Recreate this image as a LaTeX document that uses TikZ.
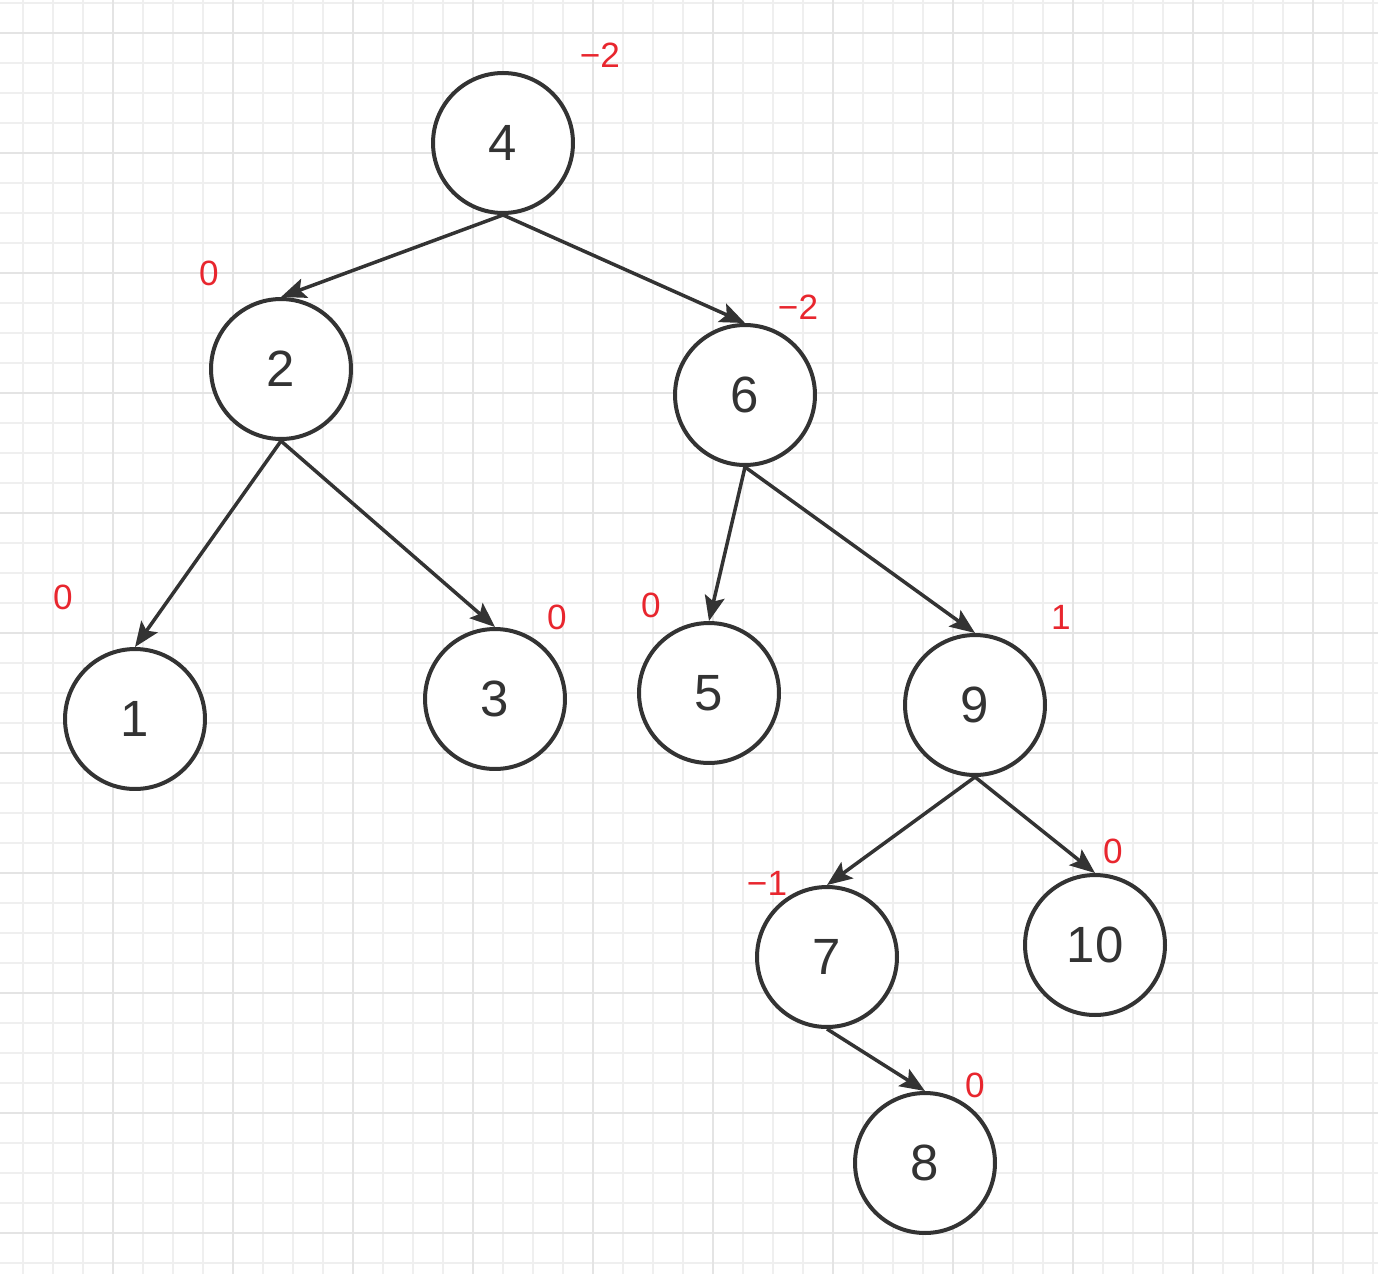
\documentclass[tikz,border=0pt]{standalone}
\usepackage{fontspec}
\setmainfont{Liberation Sans}
\usepackage{tikz}
\usetikzlibrary{
	arrows.meta,
	positioning
}
\usepackage{xcolor}
\definecolor{gridminor}{HTML}{EFEFEF}
\definecolor{gridmajor}{HTML}{E4E4E4}
\definecolor{edgegray}{HTML}{333333}
\definecolor{bfred}{HTML}{E8262E}

\begin{document}
\begin{tikzpicture}[x=0.02cm,y=-0.02cm,
		treenode/.style={circle, draw=edgegray, line width=0.08cm, fill=white,
			minimum size=2.8cm, inner sep=0pt, font=\fontsize{29}{29}\selectfont, text=edgegray},
		bflabel/.style={text=bfred, font=\fontsize{20}{20}\selectfont, inner sep=0pt},
		treeedge/.style={draw=edgegray, line width=0.07cm,
			-{Stealth[length=0.5cm,width=0.4cm,inset=0.1cm]}},
		gridline/.style={draw=gridminor, line width=0.035cm},
		gridbold/.style={draw=gridmajor, line width=0.045cm}
	]
		
		\useasboundingbox (0,0) rectangle (1378,1274);
		\fill[white] (0,0) rectangle (1378,1274);
		
		% grid
		\foreach \gx in {23,53,...,1373}
		\draw[gridline] (\gx,0) -- (\gx,1274);
		\foreach \gy in {3,33,...,1263}
		\draw[gridline] (0,\gy) -- (1378,\gy);
		\foreach \gx in {113,233,...,1373}
		\draw[gridbold] (\gx,0) -- (\gx,1274);
		\foreach \gy in {33,153,...,1233}
		\draw[gridbold] (0,\gy) -- (1378,\gy);
		
		% tree
		\node[treenode] (n4) at (503,143) {4};
		\node[treenode] (n2) at (281,369) {2};
		\node[treenode] (n6) at (745,395) {6};
		\node[treenode] (n1) at (135,719) {1};
		\node[treenode] (n3) at (495,699) {3};
		\node[treenode] (n5) at (709,693) {5};
		\node[treenode] (n9) at (975,705) {9};
		\node[treenode] (n7) at (827,957) {7};
		\node[treenode] (n10) at (1095,945) {10};
		\node[treenode] (n8) at (925,1163) {8};
		
		\draw[treeedge] (n4.south) -- (n2.north);
		\draw[treeedge] (n4.south) -- (n6.north);
		\draw[treeedge] (n2.south) -- (n1.north);
		\draw[treeedge] (n2.south) -- (n3.north);
		\draw[treeedge] (n6.south) -- (n5.north);
		\draw[treeedge] (n6.south) -- (n9.north);
		\draw[treeedge] (n9.south) -- (n7.north);
		\draw[treeedge] (n9.south) -- (n10.north);
		\draw[treeedge] (n7.south) -- (n8.north);
		
		% balance factors
		\node[bflabel] (b4) at (600,55) {−2};
		\node[bflabel] (b2) at (209,273) {0};
		\node[bflabel] (b6) at (798,307) {−2};
		\node[bflabel] (b1) at (63,597) {0};
		\node[bflabel] (b3) at (557,617) {0};
		\node[bflabel] (b5) at (651,605) {0};
		\node[bflabel] (b9) at (1061,617) {1};
		\node[bflabel] (b10) at (1113,851) {0};
		\node[bflabel] (b7) at (767,883) {−1};
		\node[bflabel] (b8) at (975,1085) {0};
		
	\end{tikzpicture}
\end{document}
